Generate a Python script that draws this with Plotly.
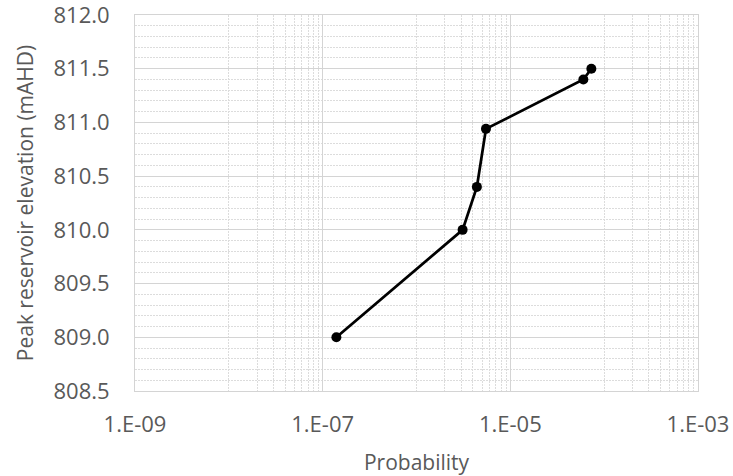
import plotly.graph_objects as go

# Annual exceedance probability vs. peak reservoir level
probability = [1.4e-7, 3.1e-6, 4.4e-6, 5.5e-6, 6.0e-5, 7.3e-5]
peak_elevation = [809.0, 810.0, 810.4, 810.94, 811.4, 811.5]

x_tick_values = [1e-9, 1e-7, 1e-5, 1e-3]
x_tick_labels = ["1.E-09", "1.E-07", "1.E-05", "1.E-03"]
y_tick_values = [808.5, 809.0, 809.5, 810.0, 810.5, 811.0, 811.5, 812.0]
y_tick_labels = ["808.5", "809.0", "809.5", "810.0", "810.5", "811.0", "811.5", "812.0"]

# minor x gridlines: 1..9 x 10^n inside each labelled two-decade band
x_minor = [m * 10.0 ** e for e in (-8, -6, -4) for m in range(1, 10)]

TEXT = "#595959"
MAJOR = "#d4d4d4"
MINOR = "#dcdcdc"
FONT = "Open Sans"

fig = go.Figure(
    go.Scatter(
        x=probability,
        y=peak_elevation,
        mode="lines+markers",
        line=dict(color="black", width=2.75),
        marker=dict(color="black", size=10),
        showlegend=False,
    )
)

fig.update_layout(
    width=733,
    height=476,
    margin=dict(l=135, r=35, t=15, b=85),
    paper_bgcolor="white",
    plot_bgcolor="white",
    font=dict(family=FONT, size=22, color=TEXT),
    xaxis=dict(
        type="log",
        range=[-9, -3],
        automargin=False,
        tickmode="array",
        tickvals=x_tick_values,
        ticktext=x_tick_labels,
        tickfont=dict(size=22, color=TEXT),
        ticklabeloverflow="allow",
        showgrid=True,
        gridcolor=MAJOR,
        gridwidth=1,
        showline=True,
        linecolor=MAJOR,
        linewidth=1,
        mirror=True,
        zeroline=False,
        ticks="outside",
        ticklen=14,
        tickcolor="rgba(0,0,0,0)",
        minor=dict(
            tickmode="array",
            tickvals=x_minor,
            showgrid=True,
            gridcolor=MINOR,
            griddash="2px,1px",
            gridwidth=1,
        ),
        title=dict(text="Probability", standoff=17, font=dict(size=21, color=TEXT)),
    ),
    yaxis=dict(
        range=[808.5, 812.0],
        automargin=False,
        tickmode="array",
        tickvals=y_tick_values,
        ticktext=y_tick_labels,
        tickfont=dict(size=22, color=TEXT),
        ticklabeloverflow="allow",
        showgrid=True,
        gridcolor=MAJOR,
        gridwidth=1,
        showline=True,
        linecolor=MAJOR,
        linewidth=1,
        mirror=True,
        zeroline=False,
        ticks="outside",
        ticklen=20,
        tickcolor="rgba(0,0,0,0)",
        minor=dict(
            dtick=0.1,
            showgrid=True,
            gridcolor=MINOR,
            griddash="2px,1px",
            gridwidth=1,
        ),
        title=dict(text="Peak reservoir elevation (mAHD)", standoff=14,
                   font=dict(size=21, color=TEXT)),
    ),
)

fig.write_html("out.html")
